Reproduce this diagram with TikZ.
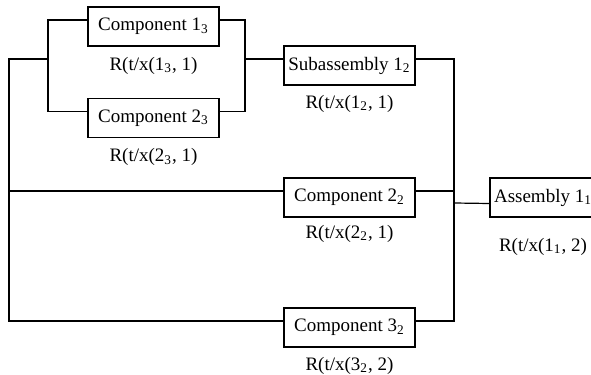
\documentclass[tikz,border=0pt]{standalone}
\usepackage{fontspec}
\setmainfont{Liberation Serif}
\usepackage{tikz}
\usetikzlibrary{positioning}
\tikzset{
  part/.style={rectangle,draw,line width=0.6pt,minimum width=65.5pt,minimum height=19.5pt,inner sep=2pt},
  rel/.style={inner sep=0pt},
  wire/.style={draw,line width=0.6pt},
  lifted/.style={yshift=3.25pt},
  lowered/.style={yshift=-3pt}
}

\begin{document}
\begin{tikzpicture}[x=0.5pt,y=-0.5pt,font=\fontsize{9.5}{11}\selectfont]
  \useasboundingbox (0,0) rectangle (591,375);

  % Boxes
  \node[part] (c13) at (153.5,26.5) {Component 1\textsubscript{3}};
  \node[part] (c23) at (153.5,118) {Component 2\textsubscript{3}};
  \node[part] (sub) at (349.5,65.5) {Subassembly 1\textsubscript{2}};
  \node[part] (c22) at (349.5,197.5) {Component 2\textsubscript{2}};
  \node[part] (c32) at (349.5,327.5) {Component 3\textsubscript{2}};
  \node[part,minimum width=51pt] (a11) at (543,197.5) {Assembly 1\textsubscript{1}};

  % Reliabilities
  \node[rel,below=5pt of c13] (r13) {R(t/x(1\textsubscript{3}, 1)};
  \node[rel,below=5pt of c23] (r23) {R(t/x(2\textsubscript{3}, 1)};
  \node[rel,below=4.5pt of sub] (r12) {R(t/x(1\textsubscript{2}, 1)};
  \node[rel,below=3.5pt of c22] (r22) {R(t/x(2\textsubscript{2}, 1)};
  \node[rel,below=4.5pt of c32] (r32) {R(t/x(3\textsubscript{2}, 2)};
  \node[rel,below=10pt of a11] (r11) {R(t/x(1\textsubscript{1}, 2)};

  % Junctions
  \coordinate (inl) at (48,59);
  \coordinate (inr) at (245,59);
  \coordinate (outl) at (9,59);
  \coordinate (outr) at (454,203);

  % Wiring
  \draw[wire] ([lifted]c13.west) -| (inl) |- ([lifted]c23.west);
  \draw[wire] ([lifted]c13.east) -| (inr) |- ([lifted]c23.east);
  \draw[wire] (inr) -- ([lifted]sub.west);
  \draw[wire] (inl) -- (outl) |- ([lifted]c22.west);
  \draw[wire] (outl) |- ([lifted]c32.west);
  \draw[wire] ([lifted]sub.east) -| (outr) |- ([lifted]c32.east);
  \draw[wire] ([lifted]c22.east) -| (outr);
  \draw[wire] (outr) -- ([lowered]a11.west);
\end{tikzpicture}
\end{document}
